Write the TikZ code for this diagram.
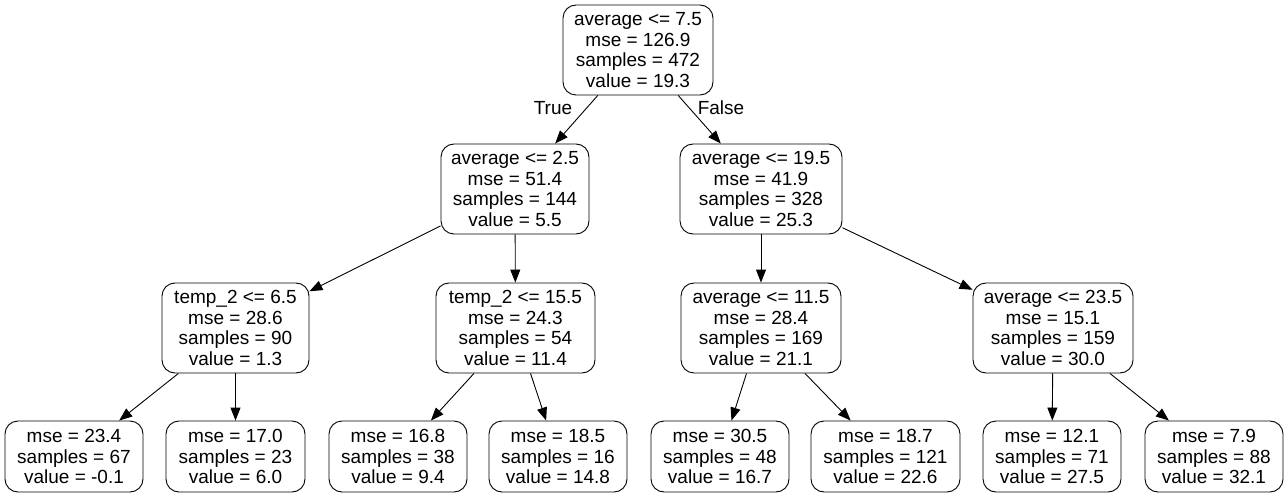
\documentclass[tikz,border=0pt]{standalone}
\usepackage{fontspec}
\setmainfont{Liberation Sans}
\usetikzlibrary{arrows.meta}
\begin{document}
\begin{tikzpicture}[x=1pt,y=-1pt,
  treenode/.style={draw, line width=0.9pt, rounded corners=13pt, inner sep=0pt,
    align=center, minimum height=90pt,
    font=\fontsize{19}{20.5}\selectfont},
  leafnode/.style={treenode, minimum height=71pt},
  edge/.style={line width=0.9pt, -{Triangle[length=13pt,width=10pt]}},
  elabel/.style={font=\fontsize{19}{20.5}\selectfont}]
\useasboundingbox (0,0) rectangle (1288,497);
% split nodes
\node[treenode, minimum width=150pt] (root) at (638,50) {average <= 7.5\\mse = 126.9\\samples = 472\\value = 19.3};
\node[treenode, minimum width=148pt] (l) at (515,189) {average <= 2.5\\mse = 51.4\\samples = 144\\value = 5.5};
\node[treenode, minimum width=162pt] (r) at (761,189) {average <= 19.5\\mse = 41.9\\samples = 328\\value = 25.3};
\node[treenode, minimum width=147pt] (ll) at (235.5,328) {temp\_2 <= 6.5\\mse = 28.6\\samples = 90\\value = 1.3};
\node[treenode, minimum width=159pt] (lr) at (515.5,328) {temp\_2 <= 15.5\\mse = 24.3\\samples = 54\\value = 11.4};
\node[treenode, minimum width=160pt] (rl) at (761,328) {average <= 11.5\\mse = 28.4\\samples = 169\\value = 21.1};
\node[treenode, minimum width=160pt] (rr) at (1053,328) {average <= 23.5\\mse = 15.1\\samples = 159\\value = 30.0};
% leaves
\node[leafnode, minimum width=138pt] (a1) at (74,456.5) {mse = 23.4\\samples = 67\\value = -0.1};
\node[leafnode, minimum width=139pt] (a2) at (235.5,456.5) {mse = 17.0\\samples = 23\\value = 6.0};
\node[leafnode, minimum width=138pt] (a3) at (398,456.5) {mse = 16.8\\samples = 38\\value = 9.4};
\node[leafnode, minimum width=138pt] (a4) at (558,456.5) {mse = 18.5\\samples = 16\\value = 14.8};
\node[leafnode, minimum width=138pt] (a5) at (720,456.5) {mse = 30.5\\samples = 48\\value = 16.7};
\node[leafnode, minimum width=149pt] (a6) at (885.5,456.5) {mse = 18.7\\samples = 121\\value = 22.6};
\node[leafnode, minimum width=138pt] (a7) at (1052,456.5) {mse = 12.1\\samples = 71\\value = 27.5};
\node[leafnode, minimum width=138pt] (a8) at (1214,456.5) {mse = 7.9\\samples = 88\\value = 32.1};
% edges
\draw[edge] (root) -- (l);
\draw[edge] (root) -- (r);
\node[elabel] (tl) at (553,108) {True};
\node[elabel] (fl) at (721,108) {False};
\draw[edge] (l) -- (ll);
\draw[edge] (l) -- (lr);
\draw[edge] (r) -- (rl);
\draw[edge] (r) -- (rr);
\draw[edge] (ll) -- (a1);
\draw[edge] (ll) -- (a2);
\draw[edge] (lr) -- (a3);
\draw[edge] (lr) -- (a4);
\draw[edge] (rl) -- (a5);
\draw[edge] (rl) -- (a6);
\draw[edge] (rr) -- (a7);
\draw[edge] (rr) -- (a8);
\end{tikzpicture}
\end{document}
